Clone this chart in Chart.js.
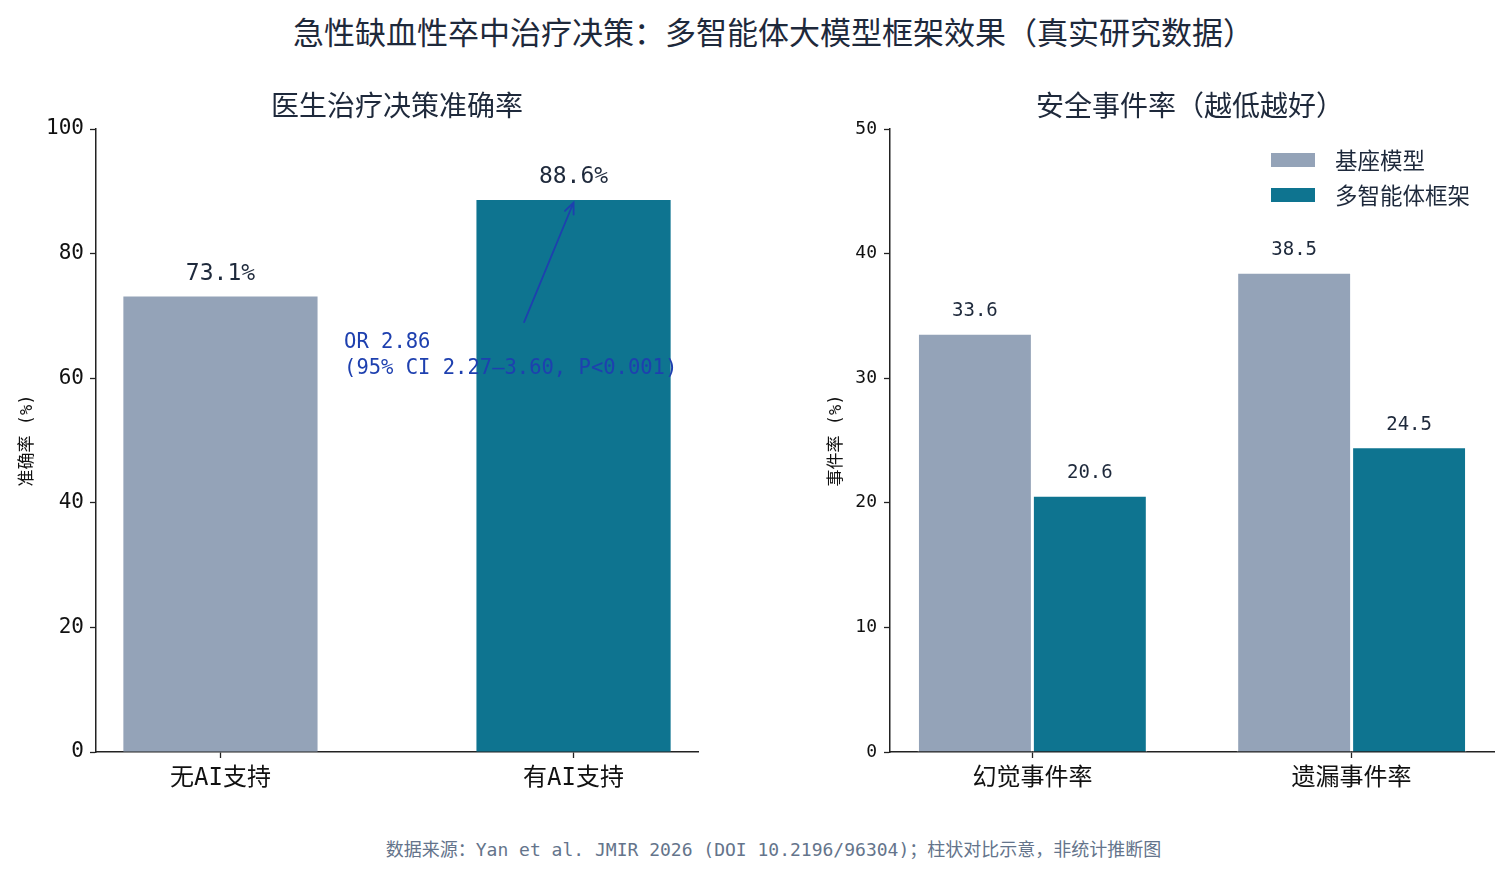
<!DOCTYPE html>
<html lang="zh-CN">
<head>
<meta charset="utf-8">
<title>急性缺血性卒中治疗决策：多智能体大模型框架效果</title>
<script src="https://cdn.jsdelivr.net/npm/chart.js@4.4.1/dist/chart.umd.min.js"></script>
<style>
  html, body { margin: 0; padding: 0; background: #fff; }
  body { width: 1507px; height: 875px; position: relative; overflow: hidden;
         font-family: 'DejaVu Sans Mono', 'Noto Sans CJK SC', sans-serif; }
  .main-title { position: absolute; left: 0; top: 11px; width: 1467px; padding-left: 40px; text-align: center;
                font-family: 'Noto Sans CJK SC', sans-serif; font-size: 31px; line-height: 40px; color: #1e293b; }
  .footer { position: absolute; left: 0; top: 837px; width: 1467px; padding-left: 40px; text-align: center;
            font-size: 18px; line-height: 26px; color: #64748b; }
  .chart-box { position: absolute; top: 70px; height: 750px; }
</style>
</head>
<body>
<div class="main-title">急性缺血性卒中治疗决策：多智能体大模型框架效果（真实研究数据）</div>
<div class="chart-box" style="left:0; width:760px;"><canvas id="accuracyChart" width="760" height="750"></canvas></div>
<div class="chart-box" style="left:790px; width:717px;"><canvas id="safetyChart" width="717" height="750"></canvas></div>
<div class="footer">数据来源：Yan et al. JMIR 2026 (DOI 10.2196/96304)；柱状对比示意，非统计推断图</div>

<script>
const FONT = "'DejaVu Sans Mono', 'Noto Sans CJK SC', sans-serif";
const TITLE_FONT = "'Noto Sans CJK SC', sans-serif";
const TEXT_DARK = '#1e293b';
const AXIS = '#222222';
const GRAY = '#94a3b8';
const TEAL = '#0e7490';
const NOTE_BLUE = '#1e40af';

// left panel: physician accuracy
const accuracyGroups = ['无AI支持', '有AI支持'];
const accuracyValues = [73.1, 88.6];
const accuracyTicks = [0, 20, 40, 60, 80, 100];

// right panel: safety events (lower is better)
const eventGroups = ['幻觉事件率', '遗漏事件率'];
const seriesNames = ['基座模型', '多智能体框架'];
const baselineEvents = [33.6, 38.5];
const agentEvents = [20.6, 24.5];
const eventTicks = [0, 10, 20, 30, 40, 50];

// odds ratio note on the accuracy panel (data coordinates)
const oddsNote = ['OR 2.86', '(95% CI 2.27–3.60, P<0.001)'];
const noteAt = { x: 0.35, y: 63.6 };
const arrowFrom = { x: 0.86, y: 69.0 };
const arrowTo = { x: 1.0, y: 88.2 };

const toPoints = (values) => values.map((v, i) => ({ x: i, y: v }));

// panel title centred over the plot area
const panelTitle = {
  id: 'panelTitle',
  afterDraw(chart, args, opts) {
    const { ctx, chartArea } = chart;
    ctx.save();
    ctx.font = `28px ${TITLE_FONT}`;
    ctx.fillStyle = TEXT_DARK;
    ctx.textAlign = 'center';
    ctx.textBaseline = 'middle';
    ctx.fillText(opts.text, (chartArea.left + chartArea.right) / 2 + (opts.shift || 0), chartArea.top - 24);
    ctx.restore();
  }
};

// numbers above bars
const valueLabels = {
  id: 'valueLabels',
  afterDatasetsDraw(chart, args, opts) {
    const { ctx } = chart;
    ctx.save();
    ctx.font = `${opts.size}px ${FONT}`;
    ctx.fillStyle = TEXT_DARK;
    ctx.textAlign = 'center';
    ctx.textBaseline = 'middle';
    chart.data.datasets.forEach((ds, i) => {
      chart.getDatasetMeta(i).data.forEach((bar, j) => {
        ctx.fillText(opts.format(ds.data[j].y), bar.x, bar.y - opts.gap);
      });
    });
    ctx.restore();
  }
};

// OR text and arrow pointing at the AI-supported bar
const oddsArrow = {
  id: 'oddsArrow',
  afterDatasetsDraw(chart) {
    const { ctx, scales: { x, y } } = chart;
    ctx.save();
    ctx.font = `20.5px ${FONT}`;
    ctx.fillStyle = NOTE_BLUE;
    ctx.textAlign = 'left';
    ctx.textBaseline = 'middle';
    const tx = x.getPixelForValue(noteAt.x);
    const ty = y.getPixelForValue(noteAt.y);
    oddsNote.forEach((line, i) => {
      ctx.fillText(line, tx, ty + (i - (oddsNote.length - 1) / 2) * 26);
    });

    const x0 = x.getPixelForValue(arrowFrom.x), y0 = y.getPixelForValue(arrowFrom.y);
    const x1 = x.getPixelForValue(arrowTo.x), y1 = y.getPixelForValue(arrowTo.y);
    const ang = Math.atan2(y1 - y0, x1 - x0);
    ctx.strokeStyle = NOTE_BLUE;
    ctx.lineWidth = 1.8;
    ctx.lineCap = 'round';
    ctx.beginPath();
    ctx.moveTo(x0, y0);
    ctx.lineTo(x1, y1);
    ctx.moveTo(x1 - 12 * Math.cos(ang - 0.4), y1 - 12 * Math.sin(ang - 0.4));
    ctx.lineTo(x1, y1);
    ctx.lineTo(x1 - 12 * Math.cos(ang + 0.4), y1 - 12 * Math.sin(ang + 0.4));
    ctx.stroke();
    ctx.restore();
  }
};

// legend in the upper right of the plot
const cornerLegend = {
  id: 'cornerLegend',
  afterDraw(chart, args, opts) {
    const { ctx, chartArea } = chart;
    ctx.save();
    ctx.font = `22.5px ${TITLE_FONT}`;
    ctx.textAlign = 'left';
    ctx.textBaseline = 'middle';
    chart.data.datasets.forEach((ds, i) => {
      const cy = chartArea.top + opts.top + i * opts.rowGap;
      const px = chartArea.right - opts.right;
      ctx.fillStyle = ds.backgroundColor;
      ctx.fillRect(px, cy - 7, 44, 14);
      ctx.fillStyle = TEXT_DARK;
      ctx.fillText(ds.label, px + 64, cy);
    });
    ctx.restore();
  }
};

function groupAxis(labels, range, fontSize, pad) {
  return {
    type: 'linear',
    min: range[0],
    max: range[1],
    offset: false,
    afterBuildTicks: (axis) => { axis.ticks = labels.map((_, i) => ({ value: i })); },
    afterFit: (axis) => { axis.height = 68; },
    ticks: {
      autoSkip: false, maxRotation: 0, padding: pad, color: '#111',
      font: { family: FONT, size: fontSize },
      callback: (value, index) => labels[index]
    },
    grid: { offset: false, drawOnChartArea: false, drawTicks: true, tickLength: 6, tickColor: AXIS, tickWidth: 1.3 },
    border: { display: true, color: AXIS, width: 1.5 }
  };
}

function valueAxis(ticks, title, o) {
  return {
    min: ticks[0],
    max: ticks[ticks.length - 1],
    afterBuildTicks: (axis) => { axis.ticks = ticks.map(v => ({ value: v })); },
    afterFit: (axis) => { axis.width = o.width; },
    ticks: { padding: o.tickPad, color: '#111', font: { family: FONT, size: o.tickSize } },
    title: { display: true, text: title, color: '#111', font: { family: FONT, size: 17 },
             padding: { top: o.titlePad, bottom: 0 } },
    grid: { drawOnChartArea: false, drawTicks: true, tickLength: 6, tickColor: AXIS, tickWidth: 1.3 },
    border: { display: true, color: AXIS, width: 1.5 }
  };
}

new Chart(document.getElementById('accuracyChart'), {
  type: 'bar',
  data: {
    datasets: [{
      label: '准确率',
      data: toPoints(accuracyValues),
      backgroundColor: [GRAY, TEAL],
      borderWidth: 0,
      categoryPercentage: 1,
      barPercentage: 0.55
    }]
  },
  options: {
    responsive: false,
    animation: false,
    events: [],
    layout: { padding: { left: 0, right: 62, top: 59, bottom: 0 } },
    scales: {
      x: groupAxis(accuracyGroups, [-0.3525, 1.3525], 24, 6),
      y: valueAxis(accuracyTicks, '准确率 (%)', { width: 96, tickSize: 21, tickPad: 6, titlePad: 17 })
    },
    plugins: {
      legend: { display: false },
      tooltip: { enabled: false },
      title: { display: false },
      panelTitle: { text: '医生治疗决策准确率' },
      valueLabels: { size: 23, gap: 23, format: v => v.toFixed(1) + '%' }
    }
  },
  plugins: [panelTitle, valueLabels, oddsArrow]
});

new Chart(document.getElementById('safetyChart'), {
  type: 'bar',
  data: {
    datasets: [
      { label: seriesNames[0], data: toPoints(baselineEvents), backgroundColor: GRAY },
      { label: seriesNames[1], data: toPoints(agentEvents), backgroundColor: TEAL }
    ].map(ds => Object.assign(ds, {
      borderColor: '#ffffff', borderWidth: 1.5, borderSkipped: 'start',
      categoryPercentage: 0.72, barPercentage: 1
    }))
  },
  options: {
    responsive: false,
    animation: false,
    events: [],
    layout: { padding: { left: 0, right: 13, top: 59, bottom: 0 } },
    scales: {
      x: groupAxis(eventGroups, [-0.446, 1.446], 24, 6),
      y: valueAxis(eventTicks, '事件率 (%)', { width: 100, tickSize: 18, tickPad: 7, titlePad: 36 })
    },
    plugins: {
      legend: { display: false },
      tooltip: { enabled: false },
      title: { display: false },
      panelTitle: { text: '安全事件率（越低越好）', shift: -2 },
      valueLabels: { size: 19, gap: 22, format: v => v.toFixed(1) },
      cornerLegend: { top: 31, rowGap: 35, right: 223 }
    }
  },
  plugins: [panelTitle, valueLabels, cornerLegend]
});
</script>
</body>
</html>
